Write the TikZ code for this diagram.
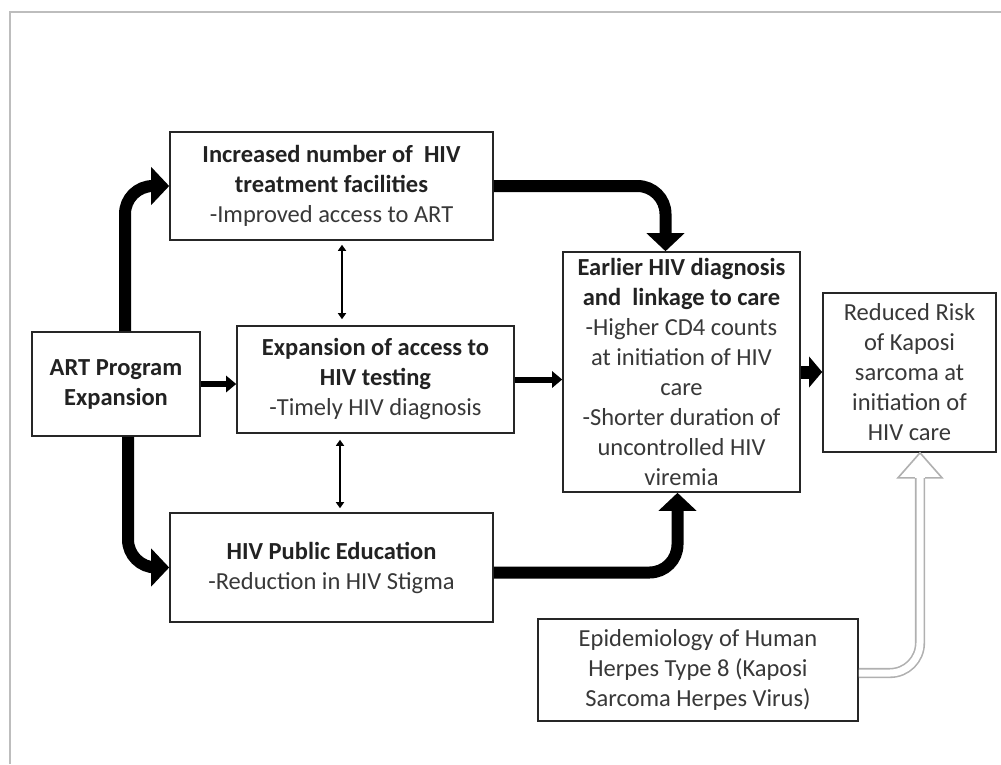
\documentclass[tikz,border=0pt]{standalone}
\usepackage{fontspec}
\setmainfont{Carlito}
\usetikzlibrary{arrows.meta,calc}
\definecolor{txtb}{HTML}{222222}
\definecolor{txtr}{HTML}{383838}
\definecolor{frame}{HTML}{BDBDBD}
\definecolor{garrow}{HTML}{B0B0B0}
\tikzset{
  boxnode/.style={draw=black!85, line width=1.6pt, inner sep=0pt, align=center,
    font=\fontsize{24.5}{30}\selectfont, text=txtr},
  thickarrow/.style={line width=12pt, rounded corners=28pt,
    -{Triangle[width=37pt,length=18pt]}},
  medarrow/.style={line width=6pt, -{Triangle[width=16pt,length=10pt]}},
  bigshort/.style={line width=13pt, -{Triangle[width=30pt,length=13pt]}},
  thinarrow/.style={line width=2.5pt,
    {Triangle[width=8pt,length=6pt]}-{Triangle[width=8pt,length=6pt]}},
  grayshaft/.style={draw=garrow, line width=1.6pt, double=white,
    double distance=7pt, rounded corners=30pt},
  grayhead/.style={draw=garrow, line width=1.6pt, fill=white, line join=miter}
}
\newcommand{\bt}[1]{{\bfseries\color{txtb}#1}}
\begin{document}
\begin{tikzpicture}[x=1pt,y=-1pt]
\useasboundingbox (0,0) rectangle (1001,764);
\fill[white] (0,0) rectangle (1001,764);
\draw[frame, line width=2pt] (10,764) -- (10,12) -- (1001,12);

\node[boxnode, minimum width=323pt, minimum height=108pt] (b1) at (331.5,186)
  {\bt{Increased number of \ HIV}\\ \bt{treatment facilities}\\ -Improved access to ART};
\node[boxnode, minimum width=168pt, minimum height=104pt] (art) at (116,384)
  {\bt{ART Program}\\ \bt{Expansion}};
\node[boxnode, minimum width=277pt, minimum height=107pt] (b2) at (375.5,379.5)
  {\bt{Expansion of access to}\\ \bt{HIV testing}\\ -Timely HIV diagnosis};
\node[boxnode, minimum width=323pt, minimum height=109pt] (b3) at (331.5,567.5)
  {\bt{HIV Public Education}\\ -Reduction in HIV Stigma};
\node[boxnode, minimum width=237pt, minimum height=240pt] (earl) at (681.5,372)
  {\bt{Earlier HIV diagnosis}\\ \bt{and \ linkage to care}\\ -Higher CD4 counts\\ at initiation of HIV\\ care\\ -Shorter duration of\\ uncontrolled HIV\\ viremia};
\node[boxnode, minimum width=173pt, minimum height=159pt] (red) at (909.5,372.5)
  {Reduced Risk\\ of Kaposi\\ sarcoma at\\ initiation of\\ HIV care};
\node[boxnode, minimum width=320pt, minimum height=102pt] (epi) at (698,670)
  {Epidemiology of Human\\ Herpes Type 8 (Kaposi\\ Sarcoma Herpes Virus)};

% thick curved arrows
\draw[thickarrow] ([xshift=9pt]art.north) |- (b1.west);
\draw[thickarrow] ([xshift=12pt]art.south) |- (b3.west);
\draw[thickarrow] (b1.east) -| ([xshift=-16pt]earl.north);
\draw[thickarrow] ([yshift=-5pt]b3.east) -| ([xshift=-4pt]earl.south);

% straight arrows
\draw[medarrow] (art.east) -- (art.east -| b2.west);
\draw[medarrow] (b2.east) -- (b2.east -| earl.west);
\draw[bigshort] (earl.east) -- (earl.east -| red.west);

% thin double arrows
\draw[thinarrow, shorten <=4pt, shorten >=6pt] ([xshift=10.5pt]b1.south) -- ([xshift=10.5pt]b1.south |- b2.north);
\draw[thinarrow, shorten <=6pt, shorten >=4pt] ([xshift=-35.5pt]b2.south) -- ([xshift=-35.5pt]b2.south |- b3.north);

% gray outlined arrow
\coordinate (gt) at ([xshift=10.5pt]red.south);
\coordinate (gb) at ($(gt)+(0,25)$);
\draw[grayshaft] ([yshift=-3pt]epi.east) -| (gb);
\draw[grayhead] ($(gb)+(-5.1,0)$) -- ($(gb)+(-22,0)$) -- (gt) -- ($(gb)+(22,0)$) -- ($(gb)+(5.1,0)$);
\end{tikzpicture}
\end{document}
